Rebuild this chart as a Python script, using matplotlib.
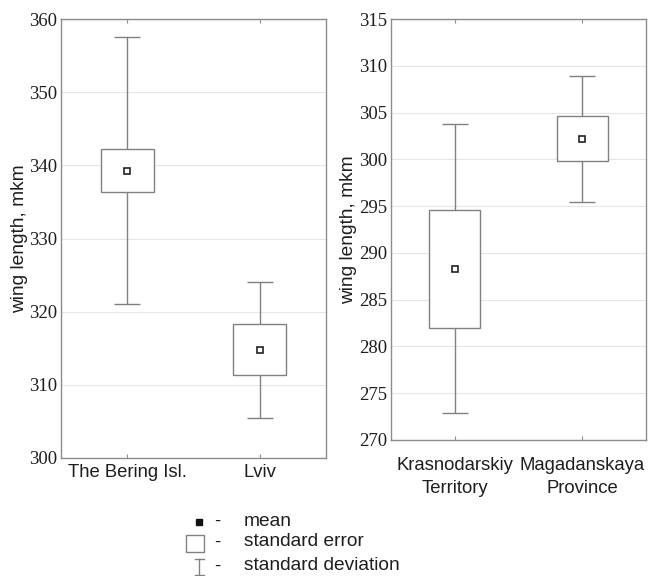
import matplotlib
matplotlib.use("Agg")
import matplotlib.pyplot as plt
from matplotlib.patches import Rectangle

# ---------------- data ----------------
left_categories = ["The Bering Isl.", "Lviv"]
left_mean = [339.25, 314.8]
left_se = [2.95, 3.5]
left_sd = [18.25, 9.3]

right_categories = ["Krasnodarskiy\nTerritory", "Magadanskaya\nProvince"]
right_mean = [288.3, 302.2]
right_se = [6.3, 2.4]
right_sd = [15.45, 6.75]

left_yticks = [300, 310, 320, 330, 340, 350, 360]
right_yticks = [270, 275, 280, 285, 290, 295, 300, 305, 310, 315]

ylabel = "wing length, mkm"
legend_labels = ["mean", "standard error", "standard deviation"]

# ---------------- style ----------------
SANS = ["Liberation Sans", "DejaVu Sans"]
SERIF = ["Liberation Serif", "DejaVu Serif"]
FS = 13.3
LINE = "#808080"
SPINE = "#8c8c8c"
GRID = "#e6e6e6"
TXT = "#1e1e1e"

W, H = 653, 576
fig = plt.figure(figsize=(W / 100, H / 100), dpi=100)
fig.patch.set_facecolor("white")


def px_axes(x0, y0, x1, y1):
    return fig.add_axes([x0 / W, 1 - y1 / H, (x1 - x0) / W, (y1 - y0) / H])


def draw_panel(ax, cats, mean, se, sd, yticks, xpad):
    pos = list(range(len(cats)))
    ax.errorbar(pos, mean, yerr=sd, fmt="none", ecolor=LINE, elinewidth=1.0,
                capsize=9.7, capthick=1.0, zorder=2)
    bottoms = [m - s for m, s in zip(mean, se)]
    heights = [2 * s for s in se]
    ax.bar(pos, heights, bottom=bottoms, width=0.4, color="white",
           edgecolor=LINE, linewidth=1.0, zorder=3)
    ax.plot(pos, mean, linestyle="none", marker="s", markersize=4.6,
            markerfacecolor="white", markeredgecolor="#222222",
            markeredgewidth=1.2, zorder=4)
    ax.set_xlim(-0.5, len(cats) - 0.5)
    ax.set_ylim(yticks[0], yticks[-1])
    ax.set_yticks(yticks)
    ax.set_yticklabels([str(t) for t in yticks], fontfamily=SERIF,
                       fontsize=13.5, color=TXT)
    ax.set_xticks(pos)
    ax.set_xticklabels(cats, fontfamily=SANS, fontsize=FS, color=TXT,
                       linespacing=1.5)
    ax.tick_params(axis="y", length=0, pad=3)
    ax.tick_params(axis="x", direction="in", length=3, color=SPINE,
                   top=True, bottom=True, pad=xpad)
    ax.grid(axis="y", color=GRID, linewidth=0.8, zorder=0)
    ax.set_axisbelow(True)
    for sp in ax.spines.values():
        sp.set_color(SPINE)
        sp.set_linewidth(1.0)


ax1 = px_axes(61, 19, 326, 458)
draw_panel(ax1, left_categories, left_mean, left_se, left_sd, left_yticks, 4)
ax1.set_ylabel(ylabel, fontfamily=SANS, fontsize=FS + 0.5, color=TXT, labelpad=0.5)

ax2 = px_axes(391, 19, 646, 440)
draw_panel(ax2, right_categories, right_mean, right_se, right_sd, right_yticks, 12)
ax2.set_ylabel(ylabel, fontfamily=SANS, fontsize=FS + 0.5, color=TXT, labelpad=1)

# ---------------- legend (figure overlay in pixel coordinates) ----------------
lg = fig.add_axes([0, 0, 1, 1], zorder=10)
lg.set_xlim(0, W)
lg.set_ylim(H, 0)
lg.axis("off")
lg.patch.set_alpha(0)

row_y = [521, 542, 566]
text_x = 244
dash_x = 217

# mean symbol
lg.plot([199], [row_y[0] + 1], marker="s", markersize=5, color="#111111",
        linestyle="none")
# standard error symbol
lg.add_patch(Rectangle((186, 535), 18, 17, facecolor="white",
                       edgecolor=LINE, linewidth=1.0))
# standard deviation symbol
lg.plot([199, 199], [559, 575], color=LINE, linewidth=1.0)
lg.plot([195, 204], [559, 559], color=LINE, linewidth=1.0)
lg.plot([195, 204], [575, 575], color=LINE, linewidth=1.0)

for y, lab in zip(row_y, legend_labels):
    lg.text(dash_x, y, "-", fontfamily=SANS, fontsize=FS, color=TXT,
            ha="center", va="center")
    lg.text(text_x, y, lab, fontfamily=SANS, fontsize=FS + 0.5, color=TXT,
            ha="left", va="center")

fig.savefig("out.png", dpi=100, facecolor="white")
